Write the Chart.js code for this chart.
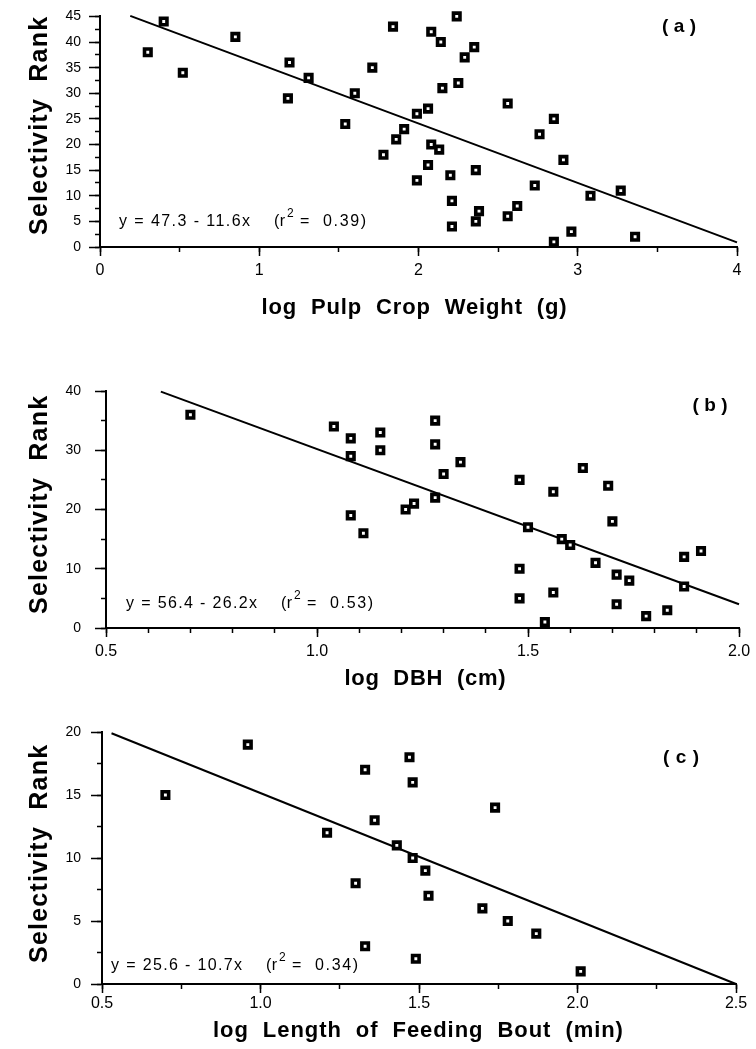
<!DOCTYPE html>
<html>
<head>
<meta charset="utf-8">
<title>Selectivity rank</title>
<script src="https://cdn.jsdelivr.net/npm/chart.js@4.4.1/dist/chart.umd.min.js"></script>
<style>
  html, body { margin: 0; padding: 0; background: #fff; }
  #page { position: relative; width: 756px; height: 1049px; overflow: hidden; }
  .panel { position: absolute; left: 0; width: 756px; }
  .panel canvas { display: block; }
</style>
</head>
<body>
<div id="page">
  <div class="panel" style="top:0"><canvas id="chart-a" width="756" height="340"></canvas></div>
  <div class="panel" style="top:340px"><canvas id="chart-b" width="756" height="360"></canvas></div>
  <div class="panel" style="top:700px"><canvas id="chart-c" width="756" height="349"></canvas></div>
</div>
<script>
/* global Chart */

// (a) log pulp crop weight (g)
const pulpLogWeight = [0.30, 0.40, 0.52, 0.85, 1.18, 1.19, 1.31, 1.54, 1.60, 1.71, 1.78, 1.84, 1.86, 1.91,
  1.99, 1.99, 2.06, 2.06, 2.08, 2.08, 2.13, 2.14, 2.15, 2.20, 2.21, 2.21, 2.24, 2.25, 2.29, 2.35, 2.36,
  2.36, 2.38, 2.56, 2.56, 2.62, 2.73, 2.76, 2.85, 2.85, 2.91, 2.96, 3.08, 3.27, 3.36];
const pulpRank = [38, 44, 34, 41, 29, 36, 33, 24, 30, 35, 18, 43, 21, 23,
  26, 13, 27, 16, 42, 20, 19, 40, 31, 14, 9, 4, 45, 32, 37, 39, 15,
  5, 7, 28, 6, 8, 12, 22, 25, 1, 17, 3, 10, 11, 2];
const pulpFitX = [0.19, 4.0];
const pulpFitY = [45.1, 0.9];
const pulpXTicks = [0, 1, 2, 3, 4];
const pulpYTicks = [0, 5, 10, 15, 20, 25, 30, 35, 40, 45];

// (b) log DBH (cm)
const dbhLog = [0.70, 1.04, 1.08, 1.08, 1.15, 1.15, 1.08, 1.11, 1.21, 1.23,
  1.28, 1.28, 1.34, 1.30, 1.28, 1.48, 1.56, 1.63, 1.69, 1.70,
  1.50, 1.58, 1.60, 1.66, 1.48, 1.71, 1.74, 1.87, 1.91, 1.87,
  1.56, 1.48, 1.71, 1.83, 1.78, 1.54];
const dbhRank = [36, 34, 32, 29, 33, 30, 19, 16, 20, 21,
  35, 31, 28, 26, 22, 25, 23, 27, 24, 18,
  17, 15, 14, 11, 10, 9, 8, 12, 13, 7,
  6, 5, 4, 3, 2, 1];
const dbhFitX = [0.63, 2.0];
const dbhFitY = [39.9, 4.0];
const dbhXTicks = [0.5, 1.0, 1.5, 2.0];
const dbhYTicks = [0, 10, 20, 30, 40];

// (c) log length of feeding bout (min)
const boutLog = [0.70, 0.96, 1.21, 1.30, 1.33, 1.33, 1.36, 1.43, 1.47, 1.48,
  1.48, 1.49, 1.52, 1.53, 1.70, 1.74, 1.78, 1.87, 2.01];
const boutRank = [15, 19, 12, 8, 17, 3, 13, 11, 18, 16,
  10, 2, 9, 7, 6, 14, 5, 4, 1];
const boutFitX = [0.53, 2.5];
const boutFitY = [19.9, 0.0];
const boutXTicks = [0.5, 1.0, 1.5, 2.0, 2.5];
const boutYTicks = [0, 5, 10, 15, 20];

(function () {
  'use strict';

  const FONT = "'Liberation Sans', Arial, Helvetica, sans-serif";
  const INK = '#000';

  function range(min, max, step) {
    const out = [];
    for (let v = min; v <= max + step / 1000; v += step) {
      out.push(Math.round(v * 1000) / 1000);
    }
    return out;
  }

  function points(xs, ys) {
    return xs.map(function (x, i) {
      return { x: x, y: ys[i] };
    });
  }

  // draws text spread out so that it spans `width` pixels
  function spacedText(ctx, text, x, y, width, align) {
    ctx.letterSpacing = '0px';
    const natural = ctx.measureText(text).width;
    const gap = text.length > 1 ? (width - natural) / (text.length - 1) : 0;
    ctx.letterSpacing = gap.toFixed(2) + 'px';
    ctx.textAlign = 'left';
    ctx.fillText(text, align === 'center' ? x - width / 2 : x, y);
    ctx.letterSpacing = '0px';
  }

  const panelText = {
    id: 'panelText',
    afterDraw: function (chart, args, o) {
      const ctx = chart.ctx;
      ctx.save();
      ctx.fillStyle = INK;
      ctx.textBaseline = 'alphabetic';

      // rotated y title
      ctx.save();
      ctx.font = 'bold 25px ' + FONT;
      ctx.translate(o.yTitleX, o.yTitleY);
      ctx.rotate(-Math.PI / 2);
      spacedText(ctx, 'Selectivity  Rank', 0, 0, 218, 'center');
      ctx.restore();

      ctx.font = 'bold 22px ' + FONT;
      spacedText(ctx, o.xTitle, o.xTitleX, o.xTitleY, o.xTitleW, 'center');

      ctx.font = 'bold 19px ' + FONT;
      spacedText(ctx, o.tag, o.tagX, o.tagY, o.tagW, 'center');

      // regression equation with r squared
      const L = o.eqX;
      const B = o.eqY;
      ctx.font = '16px ' + FONT;
      spacedText(ctx, o.eq, L, B, 131, 'left');
      spacedText(ctx, '(r', L + 155, B, 11, 'left');
      spacedText(ctx, '=  ' + o.r2 + ')', L + 181, B, 66, 'left');
      ctx.font = '12px ' + FONT;
      ctx.fillText('2', L + 168, B - 9);
      ctx.restore();
    }
  };

  function axisPair(p, dir) {
    const isX = dir === 'x';
    const major = isX ? p.xTicks : p.yTicks;
    const minor = range(isX ? p.xMin : p.yMin, isX ? p.xMax : p.yMax, isX ? p.xMinor : p.yMinor);
    const base = {
      type: 'linear',
      position: isX ? 'bottom' : 'left',
      min: isX ? p.xMin : p.yMin,
      max: isX ? p.xMax : p.yMax
    };
    const main = Object.assign({}, base, {
      weight: 1,
      afterBuildTicks: function (s) {
        s.ticks = major.map(function (v) { return { value: v }; });
      },
      afterFit: function (s) {
        if (isX) s.height = p.xAxisH; else s.width = p.left;
      },
      ticks: {
        autoSkip: false,
        maxRotation: 0,
        color: INK,
        padding: isX ? p.xTickPad : p.yTickPad,
        font: { family: FONT, size: isX ? 16 : 14 },
        callback: function (v) { return isX ? v.toFixed(p.xDecimals) : String(v); }
      },
      grid: { drawOnChartArea: false, tickLength: isX ? 9 : 11, tickWidth: 1.5, tickColor: INK },
      border: { color: INK, width: 2 }
    });
    const small = Object.assign({}, base, {
      weight: 0,
      afterBuildTicks: function (s) {
        s.ticks = minor.map(function (v) { return { value: v }; });
      },
      afterFit: function (s) {
        if (isX) s.height = 0; else s.width = 0;
      },
      ticks: { display: false },
      grid: { drawOnChartArea: false, tickLength: 5, tickWidth: 1.5, tickColor: INK },
      border: { display: false }
    });
    return [main, small];
  }

  function draw(p) {
    const xs = axisPair(p, 'x');
    const ys = axisPair(p, 'y');
    const canvas = document.getElementById(p.id);
    new Chart(canvas.getContext('2d'), {
      type: 'scatter',
      data: {
        datasets: [
          {
            data: points(p.xs, p.ys),
            pointStyle: 'rect',
            pointRadius: 4.6,
            borderWidth: 3.6,
            borderColor: INK,
            backgroundColor: '#fff',
            clip: false
          },
          {
            data: points(p.fitX, p.fitY),
            showLine: true,
            borderColor: INK,
            borderWidth: 2,
            pointRadius: 0,
            tension: 0,
            clip: false
          }
        ]
      },
      options: {
        responsive: false,
        animation: false,
        events: [],
        layout: {
          padding: {
            left: 0,
            top: p.top,
            right: 756 - p.right,
            bottom: canvas.height - p.bottom - p.xAxisH
          }
        },
        plugins: {
          legend: { display: false },
          tooltip: { enabled: false },
          panelText: p.text
        },
        scales: { x: xs[0], xMinor: xs[1], y: ys[0], yMinor: ys[1] }
      },
      plugins: [panelText]
    });
  }

  draw({
    id: 'chart-a', xs: pulpLogWeight, ys: pulpRank, fitX: pulpFitX, fitY: pulpFitY,
    xMin: 0, xMax: 4, xMinor: 0.5, xTicks: pulpXTicks, xDecimals: 0,
    yMin: 0, yMax: 45, yMinor: 2.5, yTicks: pulpYTicks,
    left: 100, right: 737, top: 10, bottom: 247, xAxisH: 50, xTickPad: 5, yTickPad: 8,
    text: {
      yTitleX: 47, yTitleY: 126,
      xTitle: 'log  Pulp  Crop  Weight  (g)', xTitleX: 414, xTitleY: 314, xTitleW: 305,
      tag: '( a )', tagX: 679, tagY: 32, tagW: 34,
      eq: 'y = 47.3 - 11.6x', r2: '0.39', eqX: 119, eqY: 226
    }
  });

  draw({
    id: 'chart-b', xs: dbhLog, ys: dbhRank, fitX: dbhFitX, fitY: dbhFitY,
    xMin: 0.5, xMax: 2.0, xMinor: 0.1, xTicks: dbhXTicks, xDecimals: 1,
    yMin: 0, yMax: 40, yMinor: 5, yTicks: dbhYTicks,
    left: 106, right: 739, top: 51, bottom: 288, xAxisH: 50, xTickPad: 5, yTickPad: 14,
    text: {
      yTitleX: 47, yTitleY: 165,
      xTitle: 'log  DBH  (cm)', xTitleX: 425, xTitleY: 345, xTitleW: 161,
      tag: '( b )', tagX: 710, tagY: 71, tagW: 35,
      eq: 'y = 56.4 - 26.2x', r2: '0.53', eqX: 126, eqY: 268
    }
  });

  draw({
    id: 'chart-c', xs: boutLog, ys: boutRank, fitX: boutFitX, fitY: boutFitY,
    xMin: 0.5, xMax: 2.5, xMinor: 0.25, xTicks: boutXTicks, xDecimals: 1,
    yMin: 0, yMax: 20, yMinor: 2.5, yTicks: boutYTicks,
    left: 102, right: 736, top: 32, bottom: 284, xAxisH: 40, xTickPad: 1, yTickPad: 10,
    text: {
      yTitleX: 47, yTitleY: 154,
      xTitle: 'log  Length  of  Feeding  Bout  (min)', xTitleX: 418, xTitleY: 337, xTitleW: 410,
      tag: '( c )', tagX: 681, tagY: 63, tagW: 36,
      eq: 'y = 25.6 - 10.7x', r2: '0.34', eqX: 111, eqY: 270
    }
  });
})();
</script>
</body>
</html>
